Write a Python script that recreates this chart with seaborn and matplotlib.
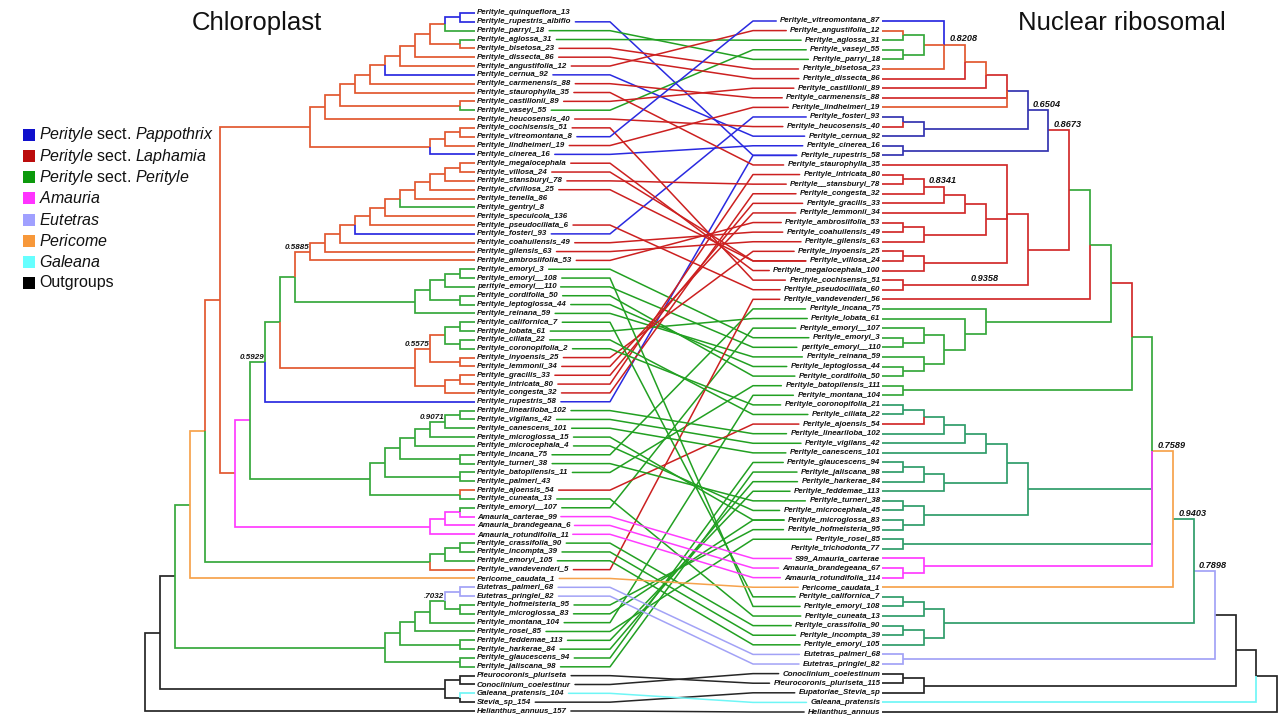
import matplotlib
matplotlib.use("Agg")
import matplotlib.pyplot as plt
from matplotlib.patches import Rectangle
import numpy as np
import pandas as pd
import seaborn as sns

# ---------------------------------------------------------------------------
# Colour codes used in the tree strings
# ---------------------------------------------------------------------------
BRANCH_COLORS = {
    "B": "#2a2ae0",   # sect. Pappothrix
    "N": "#3434b0",   # sect. Pappothrix (nuclear tree)
    "R": "#d22a2a",   # sect. Laphamia
    "O": "#e2572f",   # Laphamia backbone
    "G": "#36a83c",   # sect. Perityle
    "T": "#2f9d6a",   # sect. Perityle (nuclear tree)
    "M": "#ff3cff",   # Amauria
    "L": "#a2a2f6",   # Eutetras
    "P": "#f6a24c",   # Pericome
    "C": "#6ff6f6",   # Galeana
    "K": "#262626",   # outgroups
}
LINK_COLORS = {
    "B": "#2a2ae0", "N": "#2a2ae0", "R": "#cc2020", "O": "#cc2020",
    "G": "#22a022", "T": "#22a022", "M": "#ff3cff", "L": "#a2a2f6",
    "P": "#f6a24c", "C": "#6ff6f6", "K": "#262626",
}

# ---------------------------------------------------------------------------
# Chloroplast tree  (leaf = "name#colour", clade = "(...)colour|support")
# ---------------------------------------------------------------------------
CP_LAPHAMIA_A = (
    "(((((((((((Perityle_quinqueflora_13#B,Perityle_rupestris_albiflo#B)B,Perityle_parryi_18#G)O,"
    "(Perityle_aglossa_31#G,Perityle_bisetosa_23#O)O)O,Perityle_dissecta_86#O)O,"
    "Perityle_angustifolia_12#O)O,Perityle_cernua_92#B)O,Perityle_carmenensis_88#O)O,"
    "Perityle_staurophylla_35#O)O,(Perityle_castillonii_89#O,Perityle_vaseyi_55#G)O)O,"
    "Perityle_heucosensis_40#O)O,(((Perityle_cochisensis_51#O,Perityle_vitreomontana_8#O)O,"
    "Perityle_lindheimeri_19#O)O,Perityle_cinerea_16#B)O)O"
)
CP_LAPHAMIA_B = (
    "(((((((((((Perityle_megalocephala#O,Perityle_villosa_24#O)O,Perityle_stansburyi_78#O)O,"
    "Perityle_cfvillosa_25#O)O,Perityle_tenella_86#O)O,Perityle_gentryi_8#G)O,"
    "Perityle_specuicola_136#O)O,Perityle_pseudociliata_6#O)O,Perityle_fosteri_93#B)O,"
    "Perityle_coahuilensis_49#O)O,Perityle_gilensis_63#O)O,Perityle_ambrosiifolia_53#O)O|0.5885"
)
CP_EMORYI = (
    "((((Perityle_emoryi_3#G,Perityle_emoryi__108#G)G,perityle_emoryi__110#G)G,"
    "(Perityle_cordifolia_50#G,Perityle_leptoglossa_44#G)G)G,Perityle_reinana_59#G)G"
)
CP_LAPHAMIA_C = (
    "((((Perityle_californica_7#G,Perityle_lobata_61#G)G,(Perityle_ciliata_22#G,"
    "Perityle_coronopifolia_2#G)G)O,(Perityle_inyoensis_25#O,Perityle_lemmonii_34#O)O)O|0.5575,"
    "((Perityle_gracilis_33#O,Perityle_intricata_80#O)O,Perityle_congesta_32#O)O)O"
)
CP_PERITYLE_A = (
    "(((((((Perityle_lineariloba_102#G,Perityle_vigilans_42#G)G,Perityle_canescens_101#G)G|0.9071,"
    "Perityle_microglossa_15#G)G,Perityle_microcephala_4#G)G,(Perityle_incana_75#G,"
    "Perityle_turneri_38#G)G)G,(Perityle_batopilensis_11#G,Perityle_palmeri_43#G)G)G,"
    "(Perityle_ajoensis_54#O,Perityle_cuneata_13#G)G)G"
)
CP_AMAURIA = (
    "(((Perityle_emoryi__107#G,Amauria_carterae_99#M)M,Amauria_brandegeana_6#M)M,"
    "Amauria_rotundifolia_11#M)M"
)
CP_PERITYLE_B = (
    "(((Perityle_crassifolia_90#G,Perityle_incompta_39#G)G,Perityle_emoryi_105#G)G,"
    "Perityle_vandevenderi_5#O)G"
)
CP_PERITYLE_C = (
    "((((((Eutetras_palmeri_68#L,Eutetras_pringlei_82#L)L,(Perityle_hofmeisteria_95#G,"
    "Perityle_microglossa_83#G)G)G|.7032,Perityle_montana_104#G)G,Perityle_rosei_85#G)G,"
    "(Perityle_feddemae_113#G,Perityle_harkerae_84#G)G)G,(Perityle_glaucescens_94#G,"
    "Perityle_jaliscana_98#G)G)G"
)
CP_OUTGROUP = (
    "((Pleurocoronis_pluriseta#K,Conoclinium_coelestinur#K)K,"
    "(Galeana_pratensis_104#C,Stevia_sp_154#K)K)K"
)

_cp = f"((({CP_LAPHAMIA_B},{CP_EMORYI})G,{CP_LAPHAMIA_C})G,Perityle_rupestris_58#B)G|0.5929"
_cp = f"(({_cp},{CP_PERITYLE_A})M,{CP_AMAURIA})O"
_cp = f"((({CP_LAPHAMIA_A},{_cp})O,{CP_PERITYLE_B})P,Pericome_caudata_1#P)G"
_cp = f"((({_cp},{CP_PERITYLE_C})K,{CP_OUTGROUP})K,Helianthus_annuus_157#K)K"
CHLOROPLAST = _cp

# ---------------------------------------------------------------------------
# Nuclear ribosomal tree
# ---------------------------------------------------------------------------
NR_LAPHAMIA_A = (
    "((((Perityle_vitreomontana_87#B,((Perityle_angustifolia_12#O,Perityle_aglossa_31#G)G,"
    "(Perityle_vaseyi_55#G,Perityle_parryi_18#G)G)O,Perityle_bisetosa_23#O)O|0.8208,"
    "Perityle_dissecta_86#R)O,Perityle_castillonii_89#R)R,Perityle_carmenensis_88#R,"
    "Perityle_lindheimeri_19#O)N"
)
NR_PAPPOTHRIX = (
    "((Perityle_fosteri_93#N,Perityle_heucosensis_40#R)N,Perityle_cernua_92#N)N"
)
NR_PAPPOTHRIX_B = "(Perityle_cinerea_16#N,Perityle_rupestris_58#N)N"
NR_LAPHAMIA_B1 = (
    "((((Perityle_intricata_80#R,Perityle__stansburyi_78#R)R,Perityle_congesta_32#R)R|0.8341,"
    "Perityle_gracilis_33#R)R,Perityle_lemmonii_34#R)R"
)
NR_LAPHAMIA_B2 = "((Perityle_ambrosiifolia_53#R,Perityle_coahuilensis_49#R)R,Perityle_gilensis_63#R)R"
NR_LAPHAMIA_B3 = "((Perityle_inyoensis_25#R,Perityle_villosa_24#R)R,Perityle_megalocephala_100#R)R"
NR_LAPHAMIA_B4 = "(Perityle_cochisensis_51#R,Perityle_pseudociliata_60#R)R|0.9358@3"
NR_PERITYLE_A = (
    "(Perityle_incana_75#G,(Perityle_lobata_61#G,((Perityle_emoryi__107#G,(Perityle_emoryi_3#G,"
    "perityle_emoryi__110#G)G)G,(Perityle_reinana_59#G,(Perityle_leptoglossa_44#G,"
    "Perityle_cordifolia_50#G)G)G)G)G)G"
)
NR_PERITYLE_B = "(Perityle_batopilensis_111#G,Perityle_montana_104#G)G"
NR_PERITYLE_C = (
    "(((((((Perityle_coronopifolia_21#T,Perityle_ciliata_22#T)T,Perityle_ajoensis_54#R)T,"
    "Perityle_lineariloba_102#T)T,Perityle_vigilans_42#T)T,Perityle_canescens_101#T)T,"
    "(((Perityle_glaucescens_94#T,Perityle_jaliscana_98#T)T,Perityle_harkerae_84#T)T,"
    "Perityle_feddemae_113#T)T)T,((Perityle_turneri_38#T,Perityle_microcephala_45#T)T,"
    "(Perityle_microglossa_83#T,Perityle_hofmeisteria_95#T)T)T)T"
)
NR_PERITYLE_D = "(Perityle_rosei_85#T,Perityle_trichodonta_77#T)T"
NR_AMAURIA = "(S99_Amauria_carterae#M,(Amauria_brandegeana_67#M,Amauria_rotundifolia_114#M)M)M"
NR_PERITYLE_E = (
    "(((Perityle_californica_7#T,Perityle_emoryi_108#T)T,Perityle_cuneata_13#T)T,"
    "((Perityle_crassifolia_90#T,Perityle_incompta_39#T)T,Perityle_emoryi_105#T)T)T"
)
NR_EUTETRAS = "(Eutetras_palmeri_68#L,Eutetras_pringlei_82#L)L"
NR_OUTGROUP = (
    "((Conoclinium_coelestinum#K,Pleurocoronis_pluriseta_115#K)K,Eupatoriae_Stevia_sp#K)K"
)

_nr = f"(({NR_LAPHAMIA_A},{NR_PAPPOTHRIX})N|0.6504,{NR_PAPPOTHRIX_B})R|0.8673"
_red = f"((Perityle_staurophylla_35#R,({NR_LAPHAMIA_B1},{NR_LAPHAMIA_B2})R,{NR_LAPHAMIA_B3})R,{NR_LAPHAMIA_B4})R"
_nr = f"((({_nr},{_red})G,Perityle_vandevenderi_56#R)G,{NR_PERITYLE_A})R"
_nr = f"(({_nr},{NR_PERITYLE_B})G,{NR_PERITYLE_C},{NR_PERITYLE_D},{NR_AMAURIA})P|0.7589"
_nr = f"((({_nr},Pericome_caudata_1#P)T|0.9403,{NR_PERITYLE_E})L|0.7898,{NR_EUTETRAS})K"
_nr = f"((({_nr},{NR_OUTGROUP})K,Galeana_pratensis#C)K,Helianthus_annuus#K)K"
NUCLEAR = _nr

# the same taxon under a different label in the nuclear tree
LINK_ALIASES = {
    "Perityle_rupestris_albiflo": "Perityle_rupestris_58",
    "Perityle_vitreomontana_8": "Perityle_vitreomontana_87",
    "Perityle_megalocephala": "Perityle_megalocephala_100",
    "Perityle_stansburyi_78": "Perityle__stansburyi_78",
    "Perityle_cfvillosa_25": "Perityle_villosa_24",
    "Perityle_pseudociliata_6": "Perityle_pseudociliata_60",
    "Perityle_emoryi__108": "Perityle_emoryi_108",
    "Perityle_coronopifolia_2": "Perityle_coronopifolia_21",
    "Perityle_microglossa_15": "Perityle_microglossa_83",
    "Perityle_microcephala_4": "Perityle_microcephala_45",
    "Perityle_batopilensis_11": "Perityle_batopilensis_111",
    "Amauria_carterae_99": "S99_Amauria_carterae",
    "Amauria_brandegeana_6": "Amauria_brandegeana_67",
    "Amauria_rotundifolia_11": "Amauria_rotundifolia_114",
    "Perityle_vandevenderi_5": "Perityle_vandevenderi_56",
    "Pleurocoronis_pluriseta": "Pleurocoronis_pluriseta_115",
    "Conoclinium_coelestinur": "Conoclinium_coelestinum",
    "Galeana_pratensis_104": "Galeana_pratensis",
    "Stevia_sp_154": "Eupatoriae_Stevia_sp",
    "Helianthus_annuus_157": "Helianthus_annuus",
}

LEGEND_LABELS = [
    r"$\mathit{Perityle}$ sect. $\mathit{Pappothrix}$",
    r"$\mathit{Perityle}$ sect. $\mathit{Laphamia}$",
    r"$\mathit{Perityle}$ sect. $\mathit{Perityle}$",
    r"$\mathit{Amauria}$",
    r"$\mathit{Eutetras}$",
    r"$\mathit{Pericome}$",
    r"$\mathit{Galeana}$",
    "Outgroups",
]
LEGEND_COLORS = ["#1010cc", "#bb0c0c", "#0c990c", "#ff33ff", "#a0a0ff",
                 "#f7983a", "#66ffff", "#000000"]
TITLES = ["Chloroplast", "Nuclear ribosomal"]


# ---------------------------------------------------------------------------
def parse_newick(text):
    text = "".join(text.split())
    pos = 0
    leaves = []

    def token():
        nonlocal pos
        start = pos
        while pos < len(text) and text[pos] not in ",()":
            pos += 1
        return text[start:pos]

    def node():
        nonlocal pos
        kids = []
        if text[pos] == "(":
            pos += 1
            kids.append(node())
            while text[pos] == ",":
                pos += 1
                kids.append(node())
            assert text[pos] == ")"
            pos += 1
        tag = token()
        n = {"kids": kids}
        if kids:
            code, _, sup = tag.partition("|")
            sup, _, shift = sup.partition("@")
            n.update(code=code, support=sup or None,
                     shift=float(shift) if shift else 0.0,
                     h=max(k["h"] for k in kids) + 1)
        else:
            name, _, code = tag.partition("#")
            n.update(name=name, code=code, h=0)
            leaves.append(n)
        return n

    root = node()
    assert pos == len(text)
    return root, leaves


def layout(root, leaves, x0, step, y_top, y_bottom):
    for leaf, y in zip(leaves, np.linspace(y_top, y_bottom, len(leaves))):
        leaf["y"] = y

    def place(n):
        n["x"] = x0 + step * n["h"]
        if n["kids"]:
            for k in n["kids"]:
                place(k)
            n["y"] = (n["kids"][0]["y"] + n["kids"][-1]["y"]) / 2

    place(root)


def internal_nodes(n):
    if n["kids"]:
        yield n
        for k in n["kids"]:
            yield from internal_nodes(k)


def draw_tree(ax, n, lw=1.25):
    for k in n["kids"]:
        ax.plot([n["x"], n["x"], k["x"]], [n["y"], k["y"], k["y"]],
                color=BRANCH_COLORS[k["code"]], lw=lw,
                solid_joinstyle="miter", solid_capstyle="butt", zorder=2)
        draw_tree(ax, k, lw)


# ---------------------------------------------------------------------------
sns.set_theme(style="white")
plt.rcParams["font.family"] = ["Liberation Sans", "DejaVu Sans"]
plt.rcParams["mathtext.fontset"] = "custom"
plt.rcParams["mathtext.it"] = "Liberation Sans:italic"
plt.rcParams["mathtext.rm"] = "Liberation Sans"

W, H = 1284, 716
fig = plt.figure(figsize=(W / 100, H / 100), dpi=100)
ax = fig.add_axes([0, 0, 1, 1])
ax.set_xlim(0, W)
ax.set_ylim(H, 0)
ax.axis("off")

cp_root, cp_leaves = parse_newick(CHLOROPLAST)
nr_root, nr_leaves = parse_newick(NUCLEAR)

CP_LEAF_X, CP_STEP = 475.0, -15.0
NR_LEAF_X, NR_STEP = 882.0, 20.8
layout(cp_root, cp_leaves, CP_LEAF_X, CP_STEP, 13, 711)
layout(nr_root, nr_leaves, NR_LEAF_X, NR_STEP, 21, 712)

draw_tree(ax, cp_root)
draw_tree(ax, nr_root)

label_style = dict(fontsize=5.7, fontweight="bold", fontstyle="italic", color="#111111")
cp_text = {}
for leaf in cp_leaves:
    cp_text[leaf["name"]] = ax.text(CP_LEAF_X + 2, leaf["y"], leaf["name"],
                                    ha="left", va="center", **label_style)
nr_text = {}
for leaf in nr_leaves:
    nr_text[leaf["name"]] = ax.text(NR_LEAF_X - 1.5, leaf["y"], leaf["name"],
                                    ha="right", va="center", **label_style)

support_style = dict(fontweight="bold", fontstyle="italic", color="#111111")
for n in internal_nodes(cp_root):
    if n["support"]:
        ax.text(n["x"] - 1, n["y"] - 4.5, n["support"], ha="right", va="center",
                fontsize=5.8, **support_style)
for n in internal_nodes(nr_root):
    if n["support"]:
        ax.text(n["x"] + 5 + n["shift"] * NR_STEP, n["y"] - 6, n["support"],
                ha="left", va="center", fontsize=6.6, **support_style)

# connecting lines between the same taxon in both trees
fig.canvas.draw()
renderer = fig.canvas.get_renderer()
inv = ax.transData.inverted()
nr_by_name = {leaf["name"]: leaf for leaf in nr_leaves}
rows = []
for i, leaf in enumerate(cp_leaves):
    partner = nr_by_name.get(LINK_ALIASES.get(leaf["name"], leaf["name"]))
    if partner is None:
        continue
    bb_l = cp_text[leaf["name"]].get_window_extent(renderer)
    bb_r = nr_text[partner["name"]].get_window_extent(renderer)
    x_start = inv.transform((bb_l.x1, 0))[0] + 4
    x_end = inv.transform((bb_r.x0, 0))[0] - 4
    grp = partner["code"]
    for x, y in [(x_start, leaf["y"]), (610, leaf["y"]),
                 (753, partner["y"]), (x_end, partner["y"])]:
        rows.append({"link": i, "x": x, "y": y, "grp": grp})
links = pd.DataFrame(rows)
sns.lineplot(data=links, x="x", y="y", units="link", estimator=None, sort=False,
             hue="grp", palette={g: LINK_COLORS[g] for g in links["grp"].unique()},
             legend=False, lw=1.1, ax=ax, zorder=1)
ax.set_xlim(0, W)
ax.set_ylim(H, 0)
ax.axis("off")

# titles
ax.text(192, 23, TITLES[0], ha="left", va="center", fontsize=18.5, color="#111111")
ax.text(1018, 23, TITLES[1], ha="left", va="center", fontsize=18.5, color="#111111")

# legend
for lab, col, y in zip(LEGEND_LABELS, LEGEND_COLORS, np.linspace(135, 283, len(LEGEND_LABELS))):
    ax.add_patch(Rectangle((22.5, y - 6), 12.5, 12, facecolor=col, edgecolor="none"))
    ax.text(39, y, lab, ha="left", va="center", fontsize=11.5, color="#111111")

fig.savefig("out.png", dpi=100, facecolor="white")
